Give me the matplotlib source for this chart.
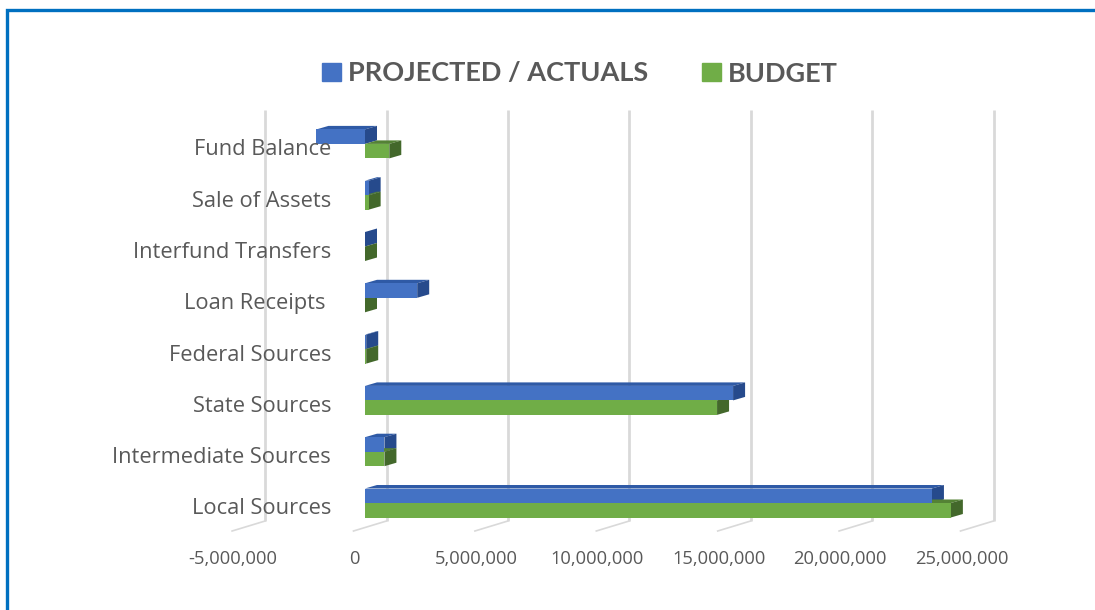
import matplotlib
matplotlib.use("Agg")
import matplotlib.pyplot as plt
from matplotlib.patches import Patch

categories = ["Local Sources", "Intermediate Sources", "State Sources", "Federal Sources",
              "Loan Receipts ", "Interfund Transfers", "Sale of Assets", "Fund Balance"]
projected = [23350000, 800000, 15160000, 50000, 2150000, 0, 150000, -2000000]
budget = [24130000, 800000, 14500000, 50000, 0, 0, 150000, 1000000]
axis_ticks = [-5000000, 0, 5000000, 10000000, 15000000, 20000000, 25000000]

W, H = 1095, 610
PX_PER_UNIT = 121.4 / 5e6
PX_PER_ROW = 51.3
X0, Y0 = 365.0, 503.0

plt.rcParams["font.family"] = ["Open Sans", "DejaVu Sans"]
fig = plt.figure(figsize=(W / 100, H / 100), dpi=100)
ax = fig.add_axes([0, 0, 1, 1])
ax.set_xlim(-X0 / PX_PER_UNIT, (W - X0) / PX_PER_UNIT)
ax.set_ylim((Y0 - H) / PX_PER_ROW, Y0 / PX_PER_ROW)
for s in ax.spines.values():
    s.set_visible(False)
ax.set_xticks([])
ax.set_yticks([])

def dx(px):
    return px / PX_PER_UNIT

def dy(px):
    return px / PX_PER_ROW

# back wall grid and floor lines
wall_bottom, wall_top = dy(Y0 - 521), dy(Y0 - 110)
GRID = "#d9d9d9"
for t in axis_ticks:
    ax.plot([t + dx(21.5)] * 2, [wall_bottom, wall_top], color=GRID, lw=2.0, zorder=1,
            solid_capstyle="butt")
    ax.plot([t + dx(21.5), t + dx(-11.5)], [wall_bottom, wall_bottom - dy(10)], color=GRID,
            lw=1.2, zorder=1)
    ax.text(t + dx(-10.5), wall_bottom - dy(38), f"{t:,}", ha="center", va="center",
            fontsize=13.2, color="#595959", zorder=6)

BAR_H = 14.5 / PX_PER_ROW
DX, DY = dx(12), dy(3.5)

def bars(values, offset, front, top, side, z, zfront):
    ys = [i + offset for i in range(len(values))]
    ax.barh(ys, values, height=BAR_H, color=front, zorder=zfront, linewidth=0)
    for y, v in zip(ys, values):
        lo, hi = min(v, 0), max(v, 0)
        ytop = y + BAR_H / 2
        ybot = y - BAR_H / 2
        ax.fill([lo, hi, hi + DX, lo + DX], [ytop, ytop, ytop + DY, ytop + DY],
                color=top, zorder=z, linewidth=0)
        ax.fill([hi, hi + DX, hi + DX, hi], [ybot, ybot + DY, ytop + DY, ytop],
                color=side, zorder=z + 0.1, linewidth=0)

bars(projected, BAR_H / 2, "#4472C4", "#2F5AA6", "#264A8C", 2, 3.5)
bars(budget, -BAR_H / 2, "#70AD47", "#548235", "#43682B", 3, 3.4)

for i, name in enumerate(categories):
    ax.text(dx(331 - X0), i + dy(-6), name, ha="right", va="center", fontsize=15.75,
            color="#595959", zorder=6)

handles = [Patch(color="#4472C4", label="PROJECTED / ACTUALS"), Patch(color="#70AD47", label="BUDGET")]
ax.legend(handles=handles, loc="center", bbox_to_anchor=(580 / W, 1 - 73.5 / H), ncols=2, frameon=False,
          prop={"family": "Lato", "size": 19.5, "weight": "bold"}, labelcolor="#595959",
          handlelength=0.7, handleheight=0.65, handletextpad=0.26, columnspacing=2.0)

# blue frame
fig.add_artist(plt.Line2D([6.5 / W, 6.5 / W, 1], [0, 1 - 9.8 / H, 1 - 9.8 / H], color="#0070C0",
                          lw=2.4, transform=fig.transFigure, solid_joinstyle="miter"))

fig.savefig("out.png", dpi=100)
